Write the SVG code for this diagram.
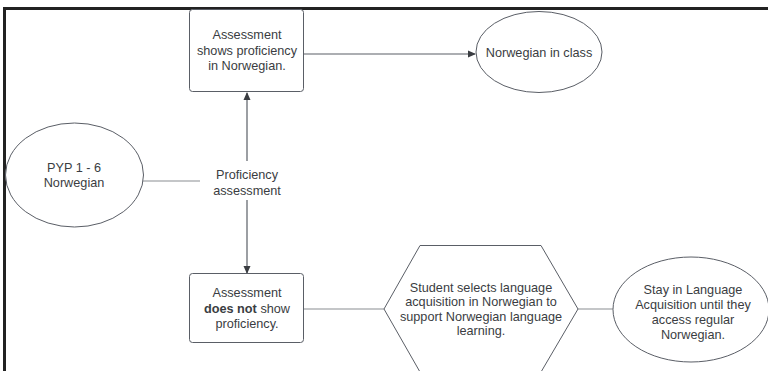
<svg xmlns="http://www.w3.org/2000/svg" width="768" height="371" viewBox="0 0 768 371">
<style>
text{font-family:"Liberation Sans",Arial,sans-serif;font-size:12.7px;fill:#3a3d42;text-anchor:middle}
.shape{fill:#fff;stroke:#5a5e66;stroke-width:1}
.conn{stroke:#8a8d92;stroke-width:1.2;fill:none}
.arr{stroke:#5a5e66;stroke-width:1.2;fill:none}
</style>
<defs>
<marker id="ah" markerWidth="8" markerHeight="8" refX="7" refY="4" orient="auto" markerUnits="userSpaceOnUse">
<path d="M0,0.5 L8,4 L0,7.5 Z" fill="#3a3d42"/>
</marker>
</defs>
<rect width="768" height="371" fill="#fff"/>
<path d="M4.5,371 V8.5 H768" fill="none" stroke="#222" stroke-width="3"/>
<g id="connectors">
<line class="arr" x1="304" y1="54" x2="475" y2="54" marker-end="url(#ah)"/>
<line class="arr" x1="247" y1="161" x2="247" y2="93" marker-end="url(#ah)"/>
<line class="arr" x1="247" y1="200" x2="247" y2="273" marker-end="url(#ah)"/>
<line class="conn" x1="143" y1="181" x2="200" y2="181"/>
<line class="conn" x1="304" y1="309" x2="384" y2="309"/>
<line class="conn" x1="578" y1="309" x2="613" y2="309"/>
</g>
<g id="pyp">
<ellipse class="shape" cx="74.5" cy="175" rx="69" ry="52"/>
<text x="74" y="172">PYP 1 - 6</text>
<text x="74" y="187">Norwegian</text>
</g>
<g id="assessment">
<text x="247" y="179">Proficiency</text>
<text x="247" y="195">assessment</text>
</g>
<g id="shows">
<rect class="shape" x="189.5" y="9.5" width="114" height="82" rx="3"/>
<text x="247" y="39">Assessment</text>
<text x="247" y="55">shows proficiency</text>
<text x="247" y="70">in Norwegian.</text>
</g>
<g id="inclass">
<ellipse class="shape" cx="539" cy="52" rx="63" ry="40.5"/>
<text x="539" y="56.5">Norwegian in class</text>
</g>
<g id="notshow">
<rect class="shape" x="189.5" y="273.5" width="114" height="69" rx="3"/>
<text x="247" y="297">Assessment</text>
<text x="247" y="313"><tspan font-weight="bold">does not</tspan> show</text>
<text x="247" y="328">proficiency.</text>
</g>
<g id="selects">
<polygon class="shape" points="384,309 420,245.5 541,245.5 578,309 541,372 420,372"/>
<text x="481" y="291.5">Student selects language</text>
<text x="481" y="306">acquisition in Norwegian to</text>
<text x="481" y="320.5">support Norwegian language</text>
<text x="481" y="335">learning.</text>
</g>
<g id="stay">
<ellipse class="shape" cx="691" cy="309.5" rx="78" ry="52.5"/>
<text x="693" y="293.5">Stay in Language</text>
<text x="693" y="308.5">Acquisition until they</text>
<text x="693" y="323.5">access regular</text>
<text x="693" y="338.5">Norwegian.</text>
</g>
</svg>
